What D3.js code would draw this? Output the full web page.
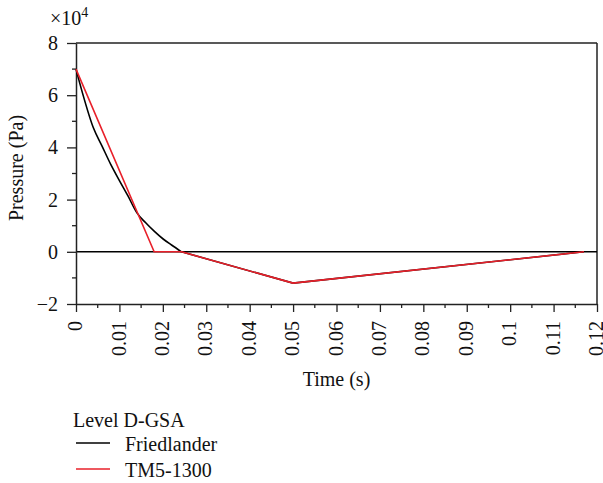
<!DOCTYPE html>
<html>
<head>
<meta charset="utf-8">
<script src="https://cdn.jsdelivr.net/npm/d3@7"></script>
<style>
  html, body { margin: 0; padding: 0; background: #fff; }
  svg { display: block; }
  text { font-family: "Liberation Serif", "Times New Roman", serif; fill: #111; }
</style>
</head>
<body>
<svg id="chart" width="603" height="483"></svg>
<script>
// Blast pressure-time histories, Level D-GSA
const friedTime  = [0, 0.0015, 0.004, 0.006, 0.008, 0.010, 0.012, 0.014, 0.016, 0.018, 0.020, 0.022, 0.0243];
const friedPress = [70000, 60800, 47500, 40500, 33500, 27300, 21300, 15000, 11200, 7900, 5000, 2600, 0];
// negative phase (straight segments)
const negTime  = [0.0243, 0.050, 0.117];
const negPress = [0, -12000, 0];
// TM5-1300 bilinear idealisation
const tmTime  = [0, 0.018, 0.0243, 0.050, 0.117];
const tmPress = [70000, 0, 0, -12000, 0];

const xTicks = [0, 0.01, 0.02, 0.03, 0.04, 0.05, 0.06, 0.07, 0.08, 0.09, 0.1, 0.11, 0.12];
const xMinor = [0.005, 0.015, 0.025, 0.035, 0.045, 0.055, 0.065, 0.075, 0.085, 0.095, 0.105, 0.115];
const yTicks = [-2, 0, 2, 4, 6, 8];
const yMinor = [-1, 1, 3, 5, 7];

const svg = d3.select("#chart");
const L = 76, T = 43, R = 597, B = 304;

const x = d3.scaleLinear().domain([0, 0.12]).range([L, R]);
const y = d3.scaleLinear().domain([-20000, 80000]).range([B, T]);
const yk = d3.scaleLinear().domain([-2, 8]).range([B, T]); // axis in units of 10^4

const axisColor = "#222";

// frame (top and right)
svg.append("line").attr("x1", L).attr("x2", R).attr("y1", T).attr("y2", T)
  .attr("stroke", axisColor).attr("stroke-width", 1.5);
svg.append("line").attr("x1", R).attr("x2", R).attr("y1", T).attr("y2", B)
  .attr("stroke", axisColor).attr("stroke-width", 1.5);

// zero reference line
svg.append("line").attr("x1", L).attr("x2", R).attr("y1", y(0)).attr("y2", y(0))
  .attr("stroke", "#000").attr("stroke-width", 1.5);

// x axis
const xAxis = svg.append("g").attr("transform", `translate(0,${B})`)
  .call(d3.axisBottom(x).tickValues(xTicks).tickSize(8).tickSizeOuter(0)
    .tickFormat(d => d3.format("")(+d.toFixed(2))));
xAxis.select(".domain").attr("stroke", axisColor).attr("stroke-width", 1.5);
xAxis.selectAll(".tick line").attr("stroke", axisColor).attr("stroke-width", 1.3);
xAxis.selectAll(".tick text")
  .attr("font-size", 20)
  .attr("transform", "rotate(-90)")
  .attr("text-anchor", "end")
  .attr("x", -17).attr("y", 0).attr("dy", "0.28em");
xAxis.selectAll(".minor").data(xMinor).enter().append("line")
  .attr("x1", d => x(d)).attr("x2", d => x(d)).attr("y1", 0).attr("y2", 4)
  .attr("stroke", axisColor).attr("stroke-width", 1.3);

// y axis
const yAxis = svg.append("g").attr("transform", `translate(${L},0)`)
  .call(d3.axisLeft(yk).tickValues(yTicks).tickSize(9).tickSizeOuter(0)
    .tickFormat(d => d < 0 ? "\u2212" + Math.abs(d) : d));
yAxis.select(".domain").attr("stroke", axisColor).attr("stroke-width", 1.5);
yAxis.selectAll(".tick line").attr("stroke", axisColor).attr("stroke-width", 1.3);
yAxis.selectAll(".tick text").attr("font-size", 20).attr("x", -18);
yAxis.selectAll(".minor").data(yMinor).enter().append("line")
  .attr("x1", -4).attr("x2", 0).attr("y1", d => yk(d)).attr("y2", d => yk(d))
  .attr("stroke", axisColor).attr("stroke-width", 1.3);

// exponent label
const ex = svg.append("text").attr("x", 50).attr("y", 25).attr("font-size", 20);
ex.append("tspan").text("\u00d710");
ex.append("tspan").attr("font-size", 14).attr("dy", -8).text("4");

// axis titles
svg.append("text").attr("x", (L + R) / 2).attr("y", 386).attr("text-anchor", "middle")
  .attr("font-size", 20).text("Time (s)");
svg.append("text").attr("transform", "translate(23,168) rotate(-90)").attr("text-anchor", "middle")
  .attr("font-size", 20).text("Pressure (Pa)");

// series
const lineCurve = d3.line().x(d => x(d[0])).y(d => y(d[1])).curve(d3.curveMonotoneX);
const lineStraight = d3.line().x(d => x(d[0])).y(d => y(d[1]));

const friedPos = friedTime.map((t, i) => [t, friedPress[i]]);
const friedNeg = negTime.map((t, i) => [t, negPress[i]]);
const tm = tmTime.map((t, i) => [t, tmPress[i]]);

svg.append("path").attr("d", lineCurve(friedPos)).attr("fill", "none")
  .attr("stroke", "#000").attr("stroke-width", 1.6);
svg.append("path").attr("d", lineStraight(friedNeg)).attr("fill", "none")
  .attr("stroke", "#000").attr("stroke-width", 1.6);
svg.append("path").attr("d", lineStraight(tm)).attr("fill", "none")
  .attr("stroke", "#e8202a").attr("stroke-width", 1.6).attr("stroke-linejoin", "round");

// legend
const leg = svg.append("g");
leg.append("text").attr("x", 73).attr("y", 427).attr("font-size", 20).text("Level D-GSA");
const items = [["Friedlander", "#000"], ["TM5-1300", "#e8202a"]];
items.forEach((it, i) => {
  const cy = 443 + i * 26;
  leg.append("line").attr("x1", 76).attr("x2", 110).attr("y1", cy).attr("y2", cy)
    .attr("stroke", it[1]).attr("stroke-width", 1.5);
  leg.append("text").attr("x", 125).attr("y", cy + 8).attr("font-size", 20).text(it[0]);
});
</script>
</body>
</html>
